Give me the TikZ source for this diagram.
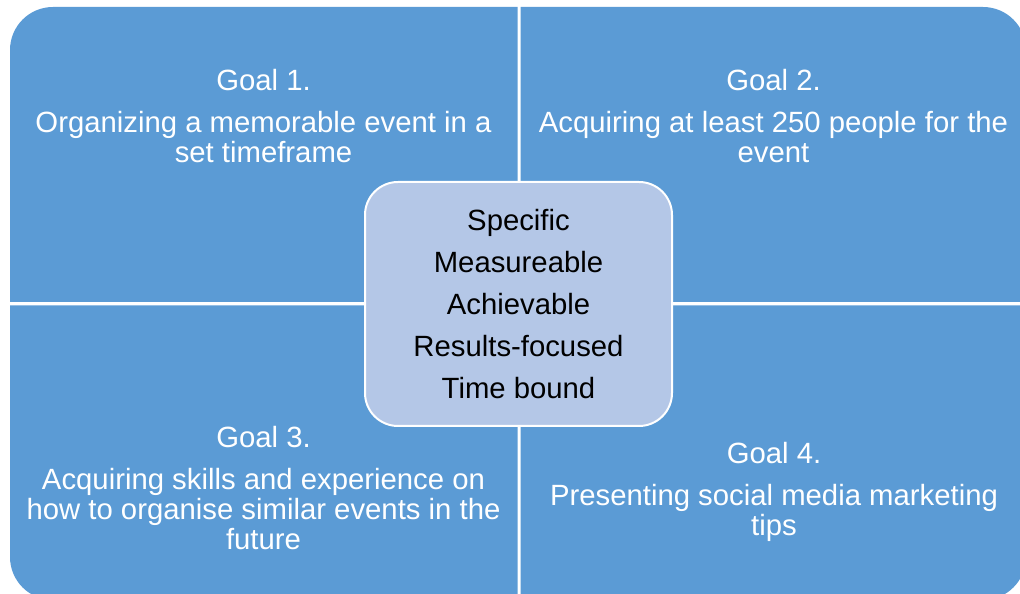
\documentclass[tikz,border=0pt]{standalone}
\usepackage{fontspec}
\setmainfont{Liberation Sans}
\definecolor{quadblue}{RGB}{91,155,213}
\definecolor{centreblue}{RGB}{180,199,231}
\tikzset{
	quad/.style={fill=quadblue},
	goal/.style={text=white, align=center, inner sep=0pt, anchor=north, font=\fontsize{29.3}{30}\selectfont},
	smart/.style={draw=white, line width=2pt, fill=centreblue, rounded corners=33pt, minimum width=307pt, minimum height=244pt, align=center, inner sep=0pt, font=\fontsize{29.3}{42}\selectfont}
}

\begin{document}
\begin{tikzpicture}[x=1pt, y=1pt]
		\useasboundingbox (0,0) rectangle (1020,594);
		\fill [quad] (10,292) -- (10,544) arc[start angle=180, end angle=90, radius=43] -- (517.5,587) -- (517.5,292) -- cycle;
		\fill [quad] (520.5,292) -- (520.5,587) -- (983,587) arc[start angle=90, end angle=0, radius=43] -- (1026,292) -- cycle;
		\fill [quad] (517.5,288.5) -- (10,288.5) -- (10,37) arc[start angle=180, end angle=270, radius=43] -- (517.5,-6) -- cycle;
		\fill [quad] (520.5,288.5) -- (1026,288.5) -- (1026,37) arc[start angle=0, end angle=-90, radius=43] -- (520.5,-6) -- cycle;
		\node [goal](GoalOne) at (263.5,524.9) {Goal 1.\\[12pt]Organizing a memorable event in a\\set timeframe};
		\node [goal](GoalTwo) at (773.5,524.9) {Goal 2.\\[12pt]Acquiring at least 250 people for the\\event};
		\node [goal](GoalThree) at (263.5,167.9) {Goal 3.\\[12pt]Acquiring skills and experience on\\how to organise similar events in the\\future};
		\node [goal](GoalFour) at (774,151.9) {Goal 4.\\[12pt]Presenting social media marketing\\tips};
		\node [smart](Smart) at (518.5,290) {Specific\\Measureable\\Achievable\\Results-focused\\Time bound};
	\end{tikzpicture}
\end{document}
